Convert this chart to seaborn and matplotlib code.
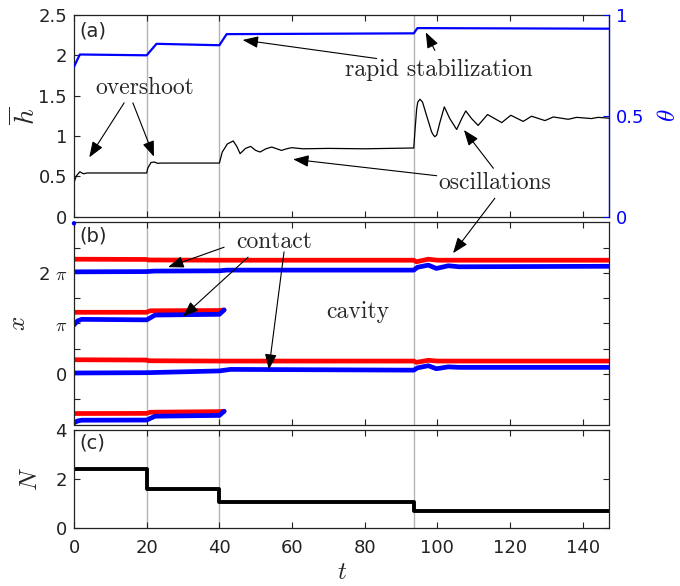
import numpy as np
import pandas as pd
import matplotlib
matplotlib.use("Agg")
import matplotlib.pyplot as plt
import seaborn as sns

# ---------------- data ----------------
# panel (a): mean film height h-bar (black) and theta (blue, right axis)
t_h = [0.0, 0.6, 1.6, 2.6, 3.6, 20.0, 20.3, 21.2, 22.1, 23.0, 24.0,
       40.0, 40.8, 42.2, 43.8, 44.8, 45.7, 47.2, 48.6, 50.0, 51.2, 52.8,
       54.4, 55.8, 57.1, 58.5, 59.9, 63.0, 70.0, 80.0, 93.5, 93.8, 94.3,
       94.6, 95.2, 95.9, 97.0, 98.4, 98.9, 99.3, 99.8, 100.7, 101.9, 103.4,
       105.3, 106.7, 107.8, 109.4, 111.2, 113.8, 117.7, 120.2, 123.6, 125.9,
       129.6, 131.9, 136.0, 138.3, 142.4, 144.2, 147.3]
h_bar = [0.42, 0.50, 0.555, 0.53, 0.54, 0.54, 0.60, 0.67, 0.676, 0.66, 0.663,
         0.663, 0.80, 0.90, 0.937, 0.87, 0.78, 0.845, 0.87, 0.82, 0.80, 0.84,
         0.862, 0.84, 0.82, 0.84, 0.854, 0.84, 0.845, 0.84, 0.85, 1.05, 1.34,
         1.42, 1.455, 1.42, 1.256, 1.05, 1.01, 0.99, 1.01, 1.17, 1.36, 1.215,
         1.08, 1.215, 1.31, 1.215, 1.13, 1.265, 1.165, 1.256, 1.18, 1.244,
         1.19, 1.235, 1.206, 1.23, 1.215, 1.23, 1.22]
t_theta = [0.0, 1.6, 20.0, 22.7, 40.0, 42.0, 93.5, 94.5, 147.3]
theta = [0.743, 0.804, 0.800, 0.857, 0.850, 0.905, 0.909, 0.935, 0.932]

# panel (b): contact-line positions x (in units of pi); red = one side, blue = other
t_r1 = [0.0, 20.0, 20.5, 40.0, 93.5, 94.2, 97.5, 100.0, 147.3]
x_r1 = [2.27, 2.265, 2.255, 2.25, 2.25, 2.22, 2.27, 2.25, 2.25]
t_b1 = [0.0, 20.0, 22.0, 40.0, 42.0, 93.5, 94.5, 97.5, 99.7, 103.0, 106.0, 147.3]
x_b1 = [2.02, 2.025, 2.035, 2.04, 2.054, 2.054, 2.11, 2.153, 2.087, 2.14, 2.12, 2.13]
t_r2 = [0.0, 20.0, 21.0, 40.0, 41.3]
x_r2 = [1.22, 1.22, 1.25, 1.255, 1.266]
t_b2 = [0.0, 1.0, 2.1, 20.0, 22.3, 40.0, 41.3]
x_b2 = [0.97, 1.05, 1.08, 1.07, 1.165, 1.18, 1.266]
t_r3 = [0.0, 20.0, 20.5, 40.0, 93.5, 94.2, 97.5, 100.0, 147.3]
x_r3 = [0.281, 0.275, 0.261, 0.255, 0.255, 0.23, 0.27, 0.255, 0.255]
t_b3 = [0.0, 20.0, 40.0, 43.0, 93.5, 94.5, 97.5, 99.7, 103.0, 106.0, 147.3]
x_b3 = [0.019, 0.025, 0.06, 0.09, 0.075, 0.12, 0.163, 0.103, 0.14, 0.13, 0.13]
t_r4 = [0.0, 20.0, 21.0, 40.0, 41.3]
x_r4 = [-0.783, -0.78, -0.757, -0.745, -0.738]
t_b4 = [0.0, 1.0, 2.1, 20.0, 22.3, 40.0, 41.3]
x_b4 = [-0.967, -0.93, -0.915, -0.912, -0.836, -0.82, -0.738]
dot_t = [0.0]
dot_x = [2.98]

# panel (c): number of drops N
t_N = [0.0, 20.0, 40.0, 93.5, 147.3]
N_val = [2.39, 1.58, 1.065, 0.70, 0.70]

# events (vertical guide lines)
events = [20.0, 40.0, 93.5]

# tick labels
xticks = [0, 20, 40, 60, 80, 100, 120, 140]
xtick_labels = ["0", "20", "40", "60", "80", "100", "120", "140"]
h_ticks = [0, 0.5, 1, 1.5, 2, 2.5]
h_tick_labels = ["0", "0.5", "1", "1.5", "2", "2.5"]
th_ticks = [0, 0.5, 1]
th_tick_labels = ["0", "0.5", "1"]
x_ticks = [-0.5, 0, 0.5, 1, 1.5, 2, 2.5]
x_tick_labels = ["", "0", "", r"$\pi$", "", r"2 $\pi$", ""]
N_ticks = [0, 2, 4]
N_tick_labels = ["0", "2", "4"]

# ---------------- styling ----------------
sns.set_theme(style="ticks")
plt.rcParams["font.family"] = ["DejaVu Sans"]
plt.rcParams["mathtext.fontset"] = "cm"
plt.rcParams["xtick.direction"] = "in"
plt.rcParams["ytick.direction"] = "in"

W, H = 680, 586
fig = plt.figure(figsize=(W / 100, H / 100), dpi=100)
left, width = 74 / W, 535.3 / W
ax_a = fig.add_axes([left, 1 - 216.5 / H, width, 201.5 / H])
ax_b = fig.add_axes([left, 1 - 424.5 / H, width, 202.2 / H])
ax_c = fig.add_axes([left, 1 - 527.7 / H, width, 97.7 / H])
XMAX = 147.3

tick_fs = 13
lab_fs = 18
ann_fs = 17
serif = "cmr10"
guide_col = "#b4b4b4"

for ax in (ax_a, ax_b, ax_c):
    ax.set_xlim(0, XMAX)
    ax.set_xticks(xticks)
    for e in events:
        ax.axvline(e, color=guide_col, lw=1.0, zorder=0)
    ax.tick_params(axis="both", which="both", direction="in", length=4,
                   width=0.8, top=True, right=True, labelsize=tick_fs, pad=5,
                   colors="#222222")
    for s in ax.spines.values():
        s.set_linewidth(0.9)
        s.set_color("#222222")

# ----- panel (a) -----
df_h = pd.DataFrame({"t": t_h, "h": h_bar})
sns.lineplot(data=df_h, x="t", y="h", ax=ax_a, color="black", lw=0.9,
             estimator=None, sort=False)
ax_a.set_ylim(0, 2.5)
ax_a.set_yticks(h_ticks)
ax_a.set_yticklabels(h_tick_labels)
ax_a.set_xticklabels([])
ax_a.set_xlabel("")
ax_a.set_ylabel(r"$\overline{h}$", fontsize=lab_fs + 2)
ax_a.yaxis.set_label_coords(-0.062, 0.5)
ax_a.tick_params(axis="y", right=False)

ax_t = ax_a.twinx()
df_th = pd.DataFrame({"t": t_theta, "theta": theta})
sns.lineplot(data=df_th, x="t", y="theta", ax=ax_t, color="#0000ff", lw=1.6,
             estimator=None, sort=False)
ax_t.set_xlim(0, XMAX)
ax_t.set_ylim(0, 1)
ax_t.set_yticks(th_ticks)
ax_t.set_yticklabels(th_tick_labels)
ax_t.tick_params(axis="y", direction="in", length=4, width=0.8,
                 colors="#0000ff", labelsize=tick_fs, pad=5)
ax_t.spines["right"].set_color("#0000ff")
ax_t.spines["right"].set_linewidth(0.9)
for k in ("left", "top", "bottom"):
    ax_t.spines[k].set_visible(False)
ax_t.set_xlabel("")
ax_t.set_ylabel(r"$\theta$", fontsize=lab_fs, color="#0000ff", rotation=90)
ax_t.yaxis.set_label_coords(1.087, 0.5)
ax_a.text(0.01, 0.97, "(a)", transform=ax_a.transAxes, fontsize=14,
          va="top", ha="left")

arrow_kw = dict(arrowstyle="-|>,head_length=0.95,head_width=0.36",
                color="black", lw=0.8, mutation_scale=10, shrinkA=0, shrinkB=0)

ax_a.text(19.4, 1.59, "overshoot", fontsize=ann_fs, family=serif,
          ha="center", va="center")
ax_a.annotate("", xy=(4.2, 0.734), xytext=(13.8, 1.41), arrowprops=arrow_kw)
ax_a.annotate("", xy=(22.0, 0.742), xytext=(16.2, 1.41), arrowprops=arrow_kw)

ax_a.text(100.4, 1.82, "rapid stabilization", fontsize=ann_fs, family=serif,
          ha="center", va="center")
ax_a.annotate("", xy=(46.4, 2.19), xytext=(83.3, 1.96), arrowprops=arrow_kw)
ax_a.annotate("", xy=(96.8, 2.285), xytext=(99.3, 2.06), arrowprops=arrow_kw)

ax_a.text(115.8, 0.42, "oscillations", fontsize=ann_fs, family=serif,
          ha="center", va="center")
ax_a.annotate("", xy=(60.3, 0.71), xytext=(99.8, 0.506), arrowprops=arrow_kw)
ax_a.annotate("", xy=(107.3, 1.073), xytext=(115.4, 0.598), arrowprops=arrow_kw)

# ----- panel (b) -----
pairs = [(t_r1, x_r1, "#ff0000"), (t_b1, x_b1, "#0000ff"),
         (t_r2, x_r2, "#ff0000"), (t_b2, x_b2, "#0000ff"),
         (t_r3, x_r3, "#ff0000"), (t_b3, x_b3, "#0000ff"),
         (t_r4, x_r4, "#ff0000"), (t_b4, x_b4, "#0000ff")]
for tt, xx, col in pairs:
    sns.lineplot(x=tt, y=xx, ax=ax_b, color=col, lw=3.4, estimator=None,
                 sort=False, solid_capstyle="round")
sns.scatterplot(x=dot_t, y=dot_x, ax=ax_b, color="#0000ff", s=10,
                edgecolor="none", zorder=5, clip_on=False)
ax_b.set_ylim(-1, 3)
ax_b.set_yticks(x_ticks)
ax_b.set_yticklabels(x_tick_labels)
ax_b.set_xticklabels([])
ax_b.set_xlabel("")
ax_b.set_ylabel(r"$x$", fontsize=lab_fs)
ax_b.yaxis.set_label_coords(-0.082, 0.5)
ax_b.text(0.01, 0.98, "(b)", transform=ax_b.transAxes, fontsize=14,
          va="top", ha="left")

ax_b.text(55.2, 2.61, "contact", fontsize=ann_fs, family=serif,
          ha="center", va="center")
ax_b.annotate("", xy=(25.9, 2.113), xytext=(41.3, 2.507), arrowprops=arrow_kw)
ax_b.annotate("", xy=(30.0, 1.134), xytext=(47.9, 2.31), arrowprops=arrow_kw)
ax_b.annotate("", xy=(53.6, 0.084), xytext=(57.8, 2.415), arrowprops=arrow_kw)
ax_b.text(78.1, 1.227, "cavity", fontsize=ann_fs, family=serif,
          ha="center", va="center")
# arrow from "oscillations" (panel a) to the wiggle in panel (b)
ax_b.annotate("", xy=(104.3, 2.389), xycoords="data", xytext=(115.8, 0.226),
              textcoords=ax_a.transData, arrowprops=arrow_kw,
              annotation_clip=False)

# ----- panel (c) -----
sns.lineplot(x=t_N, y=N_val, ax=ax_c, color="black", lw=2.8,
             drawstyle="steps-post", estimator=None, sort=False)
ax_c.set_ylim(0, 4)
ax_c.set_yticks(N_ticks)
ax_c.set_yticklabels(N_tick_labels)
ax_c.set_xticklabels(xtick_labels)
ax_c.tick_params(axis="x", pad=8)
ax_c.set_ylabel(r"$N$", fontsize=lab_fs)
ax_c.yaxis.set_label_coords(-0.06, 0.5)
ax_c.set_xlabel(r"$t$", fontsize=lab_fs)
ax_c.xaxis.set_label_coords(0.5, -0.33)
ax_c.text(0.01, 0.96, "(c)", transform=ax_c.transAxes, fontsize=14,
          va="top", ha="left")

fig.savefig("out.png", dpi=100)
